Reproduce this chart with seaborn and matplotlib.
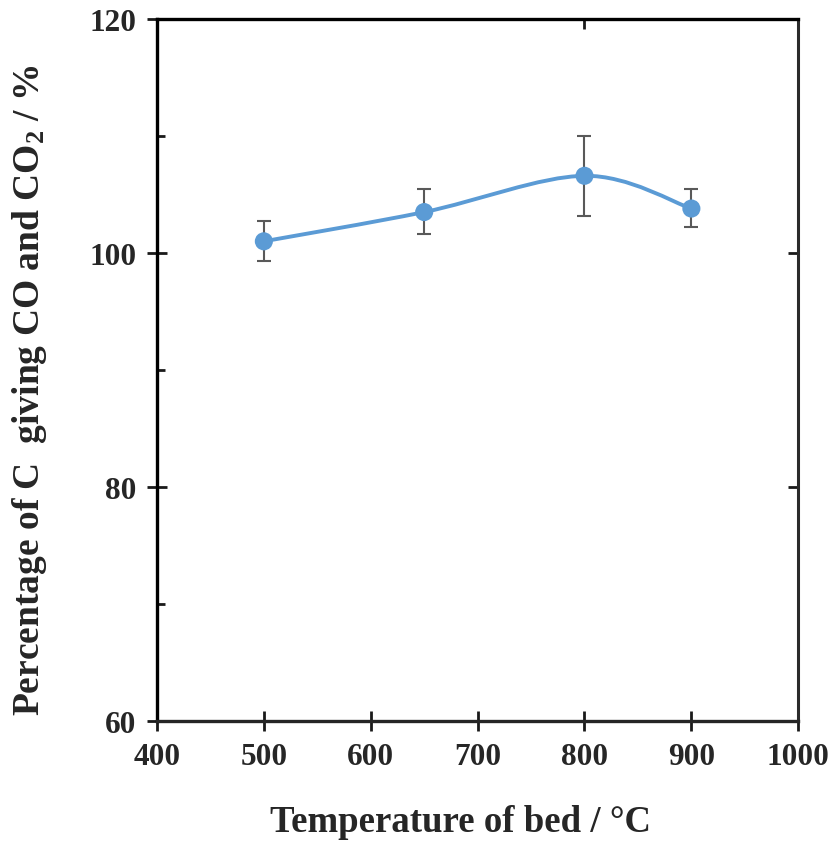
import numpy as np
import matplotlib
matplotlib.use("Agg")
import matplotlib.pyplot as plt
from matplotlib.path import Path
from matplotlib.patches import PathPatch
import seaborn as sns

# data
temperature = [500, 650, 800, 900]
percent_c = [101.0, 103.5, 106.6, 103.8]
err_low = [99.3, 101.6, 103.2, 102.2]
err_high = [102.7, 105.5, 110.0, 105.5]

x_ticks = [400, 500, 600, 700, 800, 900, 1000]
y_ticks = [60, 80, 100, 120]
y_minor = [70, 90, 110]

sns.set_style("white")
plt.rcParams['font.family'] = ['Liberation Serif', 'DejaVu Serif']
plt.rcParams['font.weight'] = 'bold'
plt.rcParams['mathtext.fontset'] = 'custom'
plt.rcParams['mathtext.rm'] = 'Liberation Serif:bold'
plt.rcParams['mathtext.it'] = 'Liberation Serif:bold'
plt.rcParams['mathtext.bf'] = 'Liberation Serif:bold'

blue = '#5B9BD5'
fig = plt.figure(figsize=(8.35, 8.45), dpi=100)
ax = fig.add_axes([0.188, 0.1456, 0.768, 0.8307])

# smoothed line (Excel-like bezier through the points)
x = np.array(temperature, dtype=float)
y = np.array(percent_c, dtype=float)
pts = np.column_stack([x, y])
verts = [pts[0]]
codes = [Path.MOVETO]
for i in range(len(pts) - 1):
    p_prev = pts[max(i - 1, 0)]
    p0, p1 = pts[i], pts[i + 1]
    p_next = pts[min(i + 2, len(pts) - 1)]
    c1 = p0 + (p1 - p_prev) / 6
    c2 = p1 - (p_next - p0) / 6
    verts += [c1, c2, p1]
    codes += [Path.CURVE4] * 3
ax.add_patch(PathPatch(Path(verts, codes), facecolor='none', edgecolor=blue,
                       lw=2.8, zorder=2, capstyle='round'))

# error bars
yerr = [y - np.array(err_low), np.array(err_high) - y]
ax.errorbar(x, y, yerr=yerr, fmt='none', ecolor='#595959', elinewidth=1.5,
            capsize=5, capthick=1.5, zorder=1)

sns.scatterplot(x=temperature, y=percent_c, ax=ax, color=blue, s=170,
                edgecolor='none', zorder=3)

ax.set_xlim(400, 1000)
ax.set_ylim(60, 120)
ax.set_xticks(x_ticks)
ax.set_yticks(y_ticks)
ax.set_yticks(y_minor, minor=True)
ax.tick_params(axis='both', which='major', direction='inout', length=14,
               width=2, color='#1a1a1a', labelsize=22.5, pad=8,
               left=True, bottom=True)
ax.tick_params(axis='y', which='minor', direction='in', length=6, width=2,
               color='#1a1a1a', left=True)
for lab in ax.get_xticklabels() + ax.get_yticklabels():
    lab.set_fontweight('bold')
    lab.set_color('#262626')

for side in ['left', 'bottom', 'top']:
    ax.spines[side].set_linewidth(2.4)
    ax.spines[side].set_color('black')
ax.spines['bottom'].set_color('#262626')
ax.spines['right'].set_linewidth(2.2)
ax.spines['right'].set_color('#2b2b2b')

right = ax.secondary_yaxis('right')
right.set_yticks(y_ticks)
right.tick_params(direction='in', length=7, width=2, color='#1a1a1a',
                  labelright=False, right=True)
top = ax.secondary_xaxis('top')
top.set_xticks([800])
top.tick_params(direction='in', length=7, width=2, color='#1a1a1a',
                labeltop=False, top=True)

ax.set_xlabel('Temperature of bed / °C', fontsize=26.5, fontweight='bold',
              color='#262626')
ax.xaxis.set_label_coords(0.473, -0.118)
ax.set_ylabel(r'Percentage of C  giving CO and CO$_2$ / %', fontsize=27,
              fontweight='bold', color='#262626')
ax.yaxis.set_label_coords(-0.168, 0.473)

fig.savefig('out.png', dpi=100)
